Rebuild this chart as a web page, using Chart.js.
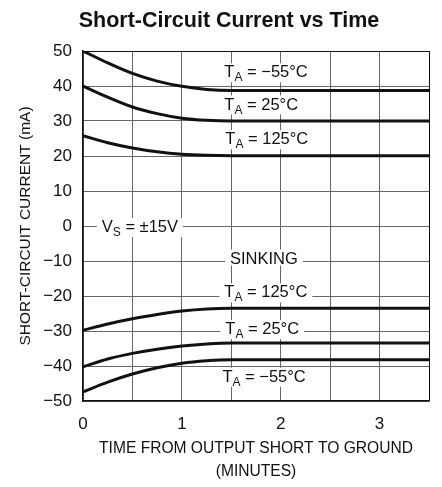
<!DOCTYPE html>
<html>
<head>
<meta charset="utf-8">
<script src="https://cdn.jsdelivr.net/npm/chart.js@4.4.0/dist/chart.umd.min.js"></script>
<style>
  html, body { margin: 0; padding: 0; background: #fff; }
  #wrap { width: 442px; height: 487px; }
</style>
</head>
<body>
<div id="wrap"><canvas id="chart"></canvas></div>
<script>
// time after the output is shorted (minutes)
var minutes = [0, 0.25, 0.5, 0.75, 1, 1.25, 1.5, 2, 2.5, 3, 3.5];

// sourcing current (mA)
var sourceMinus55 = [50, 46.6, 43.6, 41.4, 39.9, 39.0, 38.7, 38.7, 38.7, 38.7, 38.7];
var source25 = [40, 36.8, 34.0, 32.1, 30.8, 30.2, 30.0, 30.0, 30.0, 30.0, 30.0];
var source125 = [25.8, 23.8, 22.3, 21.2, 20.5, 20.2, 20.1, 20.1, 20.1, 20.1, 20.1];

// sinking current (mA)
var sink125 = [-29.8, -28.0, -26.5, -25.3, -24.3, -23.7, -23.5, -23.5, -23.5, -23.5, -23.5];
var sink25 = [-40.2, -38.0, -36.4, -35.2, -34.3, -33.7, -33.4, -33.4, -33.4, -33.4, -33.4];
var sinkMinus55 = [-47.4, -44.6, -42.3, -40.5, -39.2, -38.5, -38.2, -38.2, -38.2, -38.2, -38.2];

// axis ranges
var xRange = [0, 3.5];
var yRange = [-50, 50];

// curve labels: [main, subscript, rest]
var labelText = [
  ["T", "A", " = \u221255\u00b0C"],
  ["T", "A", " = 25\u00b0C"],
  ["T", "A", " = 125\u00b0C"],
  ["V", "S", " = \u00b115V"],
  ["SINKING", "", ""],
  ["T", "A", " = 125\u00b0C"],
  ["T", "A", " = 25\u00b0C"],
  ["T", "A", " = \u221255\u00b0C"]
];
// where each label goes (minutes, mA) and alignment
var labelPos = [
  [1.43, 44.2, "left"],
  [1.43, 35.0, "left"],
  [1.44, 25.1, "left"],
  [0.19, 0, "left"],
  [1.83, -9.0, "center"],
  [1.43, -18.7, "left"],
  [1.44, -29.2, "left"],
  [1.41, -42.8, "left"]
];

var FONT = "'Liberation Sans', Arial, sans-serif";

function pts(ys) {
  return minutes.map(function (t, i) { return { x: t, y: ys[i] }; });
}

function curve(ys) {
  return {
    data: pts(ys),
    borderColor: "#111",
    borderWidth: 3,
    pointRadius: 0,
    fill: false,
    cubicInterpolationMode: "monotone"
  };
}

// draws the in-plot labels on white patches over the grid
var curveLabels = {
  id: "curveLabels",
  beforeDatasetsDraw: function (chart) {
    var ctx = chart.ctx;
    var xs = chart.scales.x;
    var ys = chart.scales.y;
    var big = "16.5px " + FONT;
    var small = "12px " + FONT;
    ctx.save();
    labelText.forEach(function (parts, i) {
      var p = labelPos[i];
      ctx.font = big;
      var w0 = ctx.measureText(parts[0]).width;
      var w2 = ctx.measureText(parts[2]).width;
      ctx.font = small;
      var w1 = ctx.measureText(parts[1]).width;
      var total = w0 + w1 + w2;
      var x = xs.getPixelForValue(p[0]);
      if (p[2] === "center") x -= total / 2;
      var base = ys.getPixelForValue(p[1]) + 6;
      ctx.fillStyle = "#fff";
      ctx.fillRect(x - 5, base - 14, total + 10, parts[1] ? 19 : 16);
      ctx.fillStyle = "#111";
      ctx.textBaseline = "alphabetic";
      ctx.textAlign = "left";
      ctx.font = big;
      ctx.fillText(parts[0], x, base);
      ctx.font = small;
      ctx.fillText(parts[1], x + w0, base + 4);
      ctx.font = big;
      ctx.fillText(parts[2], x + w0 + w1, base);
    });
    ctx.restore();
  }
};

var myChart = new Chart(document.getElementById("chart"), {
  type: "line",
  data: {
    datasets: [
      curve(sourceMinus55),
      curve(source25),
      curve(source125),
      curve(sink125),
      curve(sink25),
      curve(sinkMinus55)
    ]
  },
  options: {
    responsive: true,
    maintainAspectRatio: false,
    animation: false,
    events: [],
    layout: { padding: { left: 23, right: 7, top: 0, bottom: 4 } },
    plugins: {
      legend: { display: false },
      tooltip: { enabled: false },
      title: {
        display: true,
        text: "Short-Circuit Current vs Time",
        color: "#111",
        font: { family: FONT, size: 21.5, weight: "bold", lineHeight: 1.2 },
        padding: { top: 8, bottom: 17.2 }
      }
    },
    scales: {
      x: {
        type: "linear",
        min: xRange[0],
        max: xRange[1],
        afterFit: function (s) { s.height = 82; },
        ticks: {
          stepSize: 0.5,
          autoSkip: false,
          maxRotation: 0,
          padding: 13,
          color: "#111",
          font: { family: FONT, size: 17 },
          callback: function (v) { return Number.isInteger(v) ? String(v) : ""; }
        },
        grid: {
          drawTicks: false,
          lineWidth: 1,
          color: function (c) { return c.tick && c.tick.value === xRange[1] ? "#111" : "#666"; }
        },
        border: { color: "#111", width: 1.5 },
        title: {
          display: true,
          text: ["TIME FROM OUTPUT SHORT TO GROUND", "(MINUTES)"],
          color: "#111",
          font: { family: FONT, size: 15.6, lineHeight: 1.47 },
          padding: { top: 0, bottom: 0 }
        }
      },
      y: {
        min: yRange[0],
        max: yRange[1],
        afterFit: function (s) { s.width = 60; },
        ticks: {
          stepSize: 10,
          padding: 11,
          color: "#111",
          font: { family: FONT, size: 17 },
          callback: function (v) { return String(v).replace("-", "\u2212"); }
        },
        grid: {
          drawTicks: false,
          lineWidth: 1,
          color: function (c) { return c.tick && c.tick.value === yRange[1] ? "#111" : "#666"; }
        },
        border: { color: "#111", width: 1.5 },
        title: {
          display: true,
          text: "SHORT-CIRCUIT CURRENT (mA)",
          color: "#111",
          font: { family: FONT, size: 15.5, lineHeight: 1.2 },
          padding: { top: -6.3, bottom: 0 }
        }
      }
    }
  },
  plugins: [curveLabels]
});
</script>
</body>
</html>
